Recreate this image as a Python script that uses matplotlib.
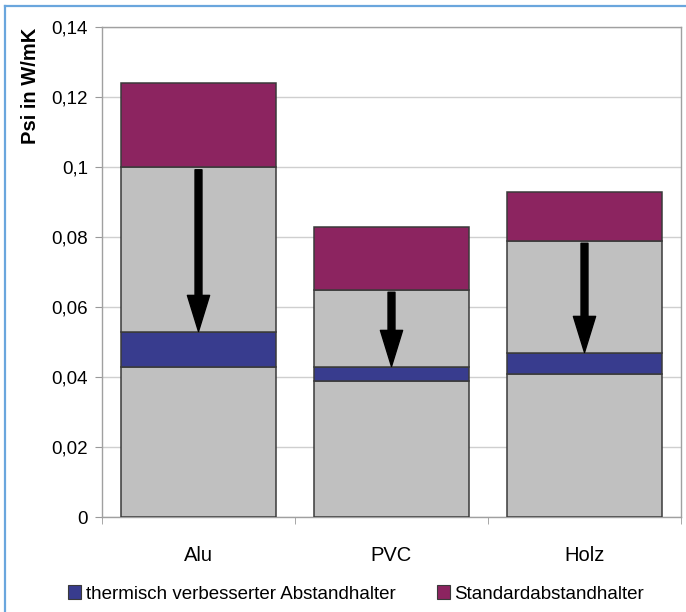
import numpy as np
import matplotlib
matplotlib.use("Agg")
import matplotlib.pyplot as plt
from matplotlib.patches import Patch
from matplotlib.lines import Line2D

plt.rcParams['font.family'] = ['Liberation Sans', 'DejaVu Sans']

# Psi-Werte je Rahmenmaterial (W/mK), als Grenzen der gestapelten Segmente
categories = ['Alu', 'PVC', 'Holz']
gray_low = [0.043, 0.039, 0.041]       # grauer Sockel
improved = [0.053, 0.043, 0.047]       # thermisch verbesserter Abstandhalter
gray_high = [0.100, 0.065, 0.079]      # Beginn Standardabstandhalter
standard = [0.124, 0.083, 0.093]       # Standardabstandhalter gesamt

yticks = [0, 0.02, 0.04, 0.06, 0.08, 0.1, 0.12, 0.14]
ytick_labels = ['0', '0,02', '0,04', '0,06', '0,08', '0,1', '0,12', '0,14']

c_gray = '#C0C0C0'
c_blue = '#383C8E'
c_purple = '#8C2460'
c_edge = '#3a3a3a'

fig = plt.figure(figsize=(6.86, 6.12), dpi=100)
ax = fig.add_axes([102 / 686, 1 - 517 / 612, 579 / 686, 490 / 612])

x = np.arange(len(categories))
low = np.array(gray_low)
imp = np.array(improved)
high = np.array(gray_high)
std = np.array(standard)

kw = dict(width=0.8, edgecolor=c_edge, linewidth=1.1, zorder=3)
ax.bar(x, low, color=c_gray, **kw)
ax.bar(x, imp - low, bottom=low, color=c_blue, **kw)
ax.bar(x, high - imp, bottom=imp, color=c_gray, **kw)
ax.bar(x, std - high, bottom=high, color=c_purple, **kw)

# Pfeile: Verbesserung vom Standard- zum verbesserten Abstandhalter
for xi, y0, y1 in zip(x, high, imp):
    ax.annotate('', xy=(xi, y1), xytext=(xi, y0),
                arrowprops=dict(arrowstyle='simple,head_length=2.6,head_width=1.6,tail_width=0.5',
                                mutation_scale=10, color='black',
                                shrinkA=2, shrinkB=0),
                zorder=5)

ax.set_xlim(-0.5, len(categories) - 0.5)
ax.set_ylim(0, 0.14)
ax.set_yticks(yticks)
ax.set_yticklabels(ytick_labels, fontsize=13.5)
ax.yaxis.grid(True, color='#cfcfcf', linewidth=1, zorder=0)
ax.set_axisbelow(True)

ax.set_xticks(x)
ax.set_xticklabels(categories, fontsize=14.5)
ax.set_xticks(np.arange(-0.5, len(categories)), minor=True)
ax.tick_params(axis='x', which='major', length=0, pad=21)
ax.tick_params(axis='x', which='minor', length=5, color='#999999', direction='out')
ax.tick_params(axis='y', length=5, color='#999999', pad=5)

for s in ax.spines.values():
    s.set_color('#a0a0a0')
    s.set_linewidth(1)

fig.text(30 / 686, 1 - 86 / 612, 'Psi in W/mK', rotation=90, fontsize=14.5,
         fontweight='bold', ha='center', va='center')

handles = [Patch(facecolor=c_blue, edgecolor=c_edge, linewidth=0.8),
           Patch(facecolor=c_purple, edgecolor=c_edge, linewidth=0.8)]
fig.legend(handles, ['thermisch verbesserter Abstandhalter', 'Standardabstandhalter'],
           loc='center', bbox_to_anchor=(356 / 686, 1 - 594 / 612), ncol=2,
           frameon=False, fontsize=13.5, handlelength=0.7, handleheight=0.7,
           handletextpad=0.25, columnspacing=2.2)

# blauer Rahmen oben und links
fig.add_artist(Line2D([5 / 686, 5 / 686], [0, 1 - 6 / 612], color='#6AA6DD', linewidth=1.6))
fig.add_artist(Line2D([5 / 686, 1], [1 - 6 / 612, 1 - 6 / 612], color='#6AA6DD', linewidth=1.6))

fig.savefig('out.png', dpi=100)
